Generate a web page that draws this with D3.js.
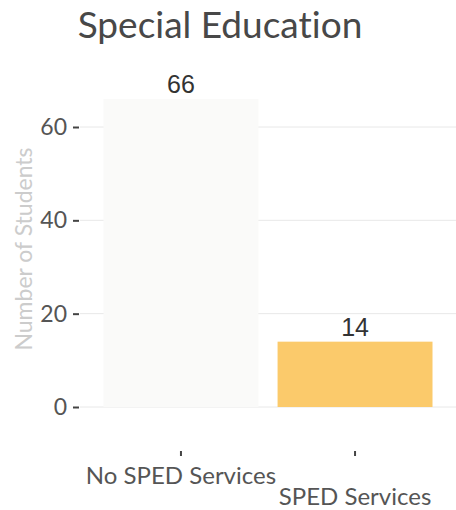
<!DOCTYPE html>
<html><head><meta charset="utf-8">
<script src="https://cdn.jsdelivr.net/npm/d3@7"></script>
<style>body{margin:0;background:#fff}svg{display:block}text{font-variant-ligatures:none}</style>
</head><body><svg id="c" width="456" height="510"></svg>
<script>
const categories = ["No SPED Services", "SPED Services"];
const values = [66, 14];
const barColors = ["#fafaf9", "#fbca6b"];
const yTicks = [0, 20, 40, 60];
const title = "Special Education";
const yTitle = "Number of Students";

const svg = d3.select("#c");
const x = d3.scaleBand().domain(categories).range([80, 456]).paddingInner(0.11).paddingOuter(0.135);
const y = d3.scaleLinear().domain([0, 60]).range([407, 127]);

// gridlines
svg.append("g").selectAll("line").data(yTicks).join("line")
  .attr("x1", 80).attr("x2", 456).attr("y1", d => y(d)).attr("y2", d => y(d))
  .attr("stroke", "#e8e8e8").attr("stroke-width", 1);

// y axis
const ya = svg.append("g").attr("transform", "translate(79,0)")
  .call(d3.axisLeft(y).tickValues(yTicks).tickSize(6).tickPadding(6));
ya.select(".domain").remove();
ya.selectAll(".tick line").attr("stroke", "#444").attr("stroke-width", 2);
ya.selectAll(".tick text").attr("fill", "#555").style("font-family", "Lato").style("font-size", "23px");

// bars
svg.append("g").selectAll("rect").data(values).join("rect")
  .attr("x", (d, i) => x(categories[i])).attr("width", x.bandwidth())
  .attr("y", d => y(d)).attr("height", d => y(0) - y(d))
  .attr("fill", (d, i) => barColors[i]);

// value labels
svg.append("g").selectAll("text").data(values).join("text")
  .attr("x", (d, i) => x(categories[i]) + x.bandwidth() / 2)
  .attr("y", d => y(d) - 6)
  .attr("text-anchor", "middle").attr("fill", "#333")
  .style("font-family", "Liberation Sans, Arial").style("font-size", "25px")
  .text(d => d);

// x axis
const xa = svg.append("g").attr("transform", "translate(0,451)")
  .call(d3.axisBottom(x).tickSize(5).tickPadding(0));
xa.select(".domain").remove();
xa.selectAll(".tick line").attr("stroke", "#444").attr("stroke-width", 2);
xa.selectAll(".tick text").attr("fill", "#555").style("font-family", "Lato").style("font-size", "24px")
  .attr("y", (d, i) => i === 0 ? 33 : 54).attr("dy", 0);

// title
svg.append("text").attr("x", 220).attr("y", 38).attr("text-anchor", "middle")
  .attr("fill", "#484848").style("font-family", "Lato").style("font-size", "37px").text(title);

// y title
svg.append("text").attr("transform", "translate(32,249) rotate(-90)").attr("text-anchor", "middle")
  .attr("fill", "#cccccc").style("font-family", "Lato").style("font-size", "23px").text(yTitle);
</script></body></html>
